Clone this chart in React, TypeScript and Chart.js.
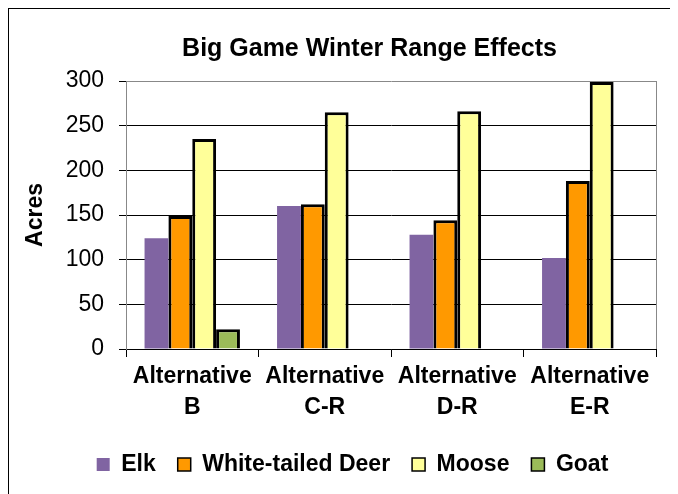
import React, { useEffect, useRef } from "react";
import { Chart, registerables } from "chart.js";

Chart.register(...registerables);

const categories: string[][] = [
  ["Alternative", "B"],
  ["Alternative", "C-R"],
  ["Alternative", "D-R"],
  ["Alternative", "E-R"],
];
const elkValues = [124, 160, 128, 102];
const deerValues = [149, 162, 144, 188];
const mooseValues = [235, 265, 266, 299];
const goatValues: (number | null)[] = [22, null, null, null];
const yMin = 0;
const yMax = 300;
const yStep = 50;

const FONT = "'Liberation Sans', Arial, Helvetica, sans-serif";

const frameLines = {
  id: "frameLines",
  afterDatasetsDraw(chart: any) {
    const { ctx, chartArea } = chart;
    ctx.save();
    ctx.strokeStyle = "#888888";
    ctx.lineWidth = 1;
    ctx.beginPath();
    ctx.moveTo(Math.round(chartArea.right) + 0.5, chartArea.top);
    ctx.lineTo(Math.round(chartArea.right) + 0.5, chartArea.bottom);
    ctx.stroke();
    ctx.restore();
  },
};

const shiftBoxes = {
  id: "shiftBoxes",
  afterLayout(chart: any) {
    const t = chart.titleBlock;
    if (t) {
      t.left += 37;
      t.right += 37;
    }
    const l = chart.legend;
    if (l) {
      l.left += 20;
      l.right += 20;
    }
  },
};

export default function App() {
  const canvasRef = useRef<HTMLCanvasElement | null>(null);

  useEffect(() => {
    if (!canvasRef.current) return;
    const chart = new Chart(canvasRef.current, {
      type: "bar",
      data: {
        labels: categories,
        datasets: [
          {
            label: "Elk",
            data: elkValues,
            backgroundColor: "#8064A2",
            borderColor: "#8064A2",
            borderWidth: 0,
          },
          {
            label: "White-tailed Deer",
            data: deerValues,
            backgroundColor: "#FF9900",
            borderColor: "#000000",
            borderWidth: 3,
          },
          {
            label: "Moose",
            data: mooseValues,
            backgroundColor: "#FFFF99",
            borderColor: "#000000",
            borderWidth: 3,
          },
          {
            label: "Goat",
            data: goatValues,
            backgroundColor: "#9BBB59",
            borderColor: "#000000",
            borderWidth: 3,
          },
        ],
      },
      options: {
        responsive: false,
        animation: false,
        devicePixelRatio: 1,
        layout: { padding: { left: 0, right: 15, top: 0, bottom: 9 } },
        datasets: {
          bar: { categoryPercentage: 0.72, barPercentage: 1.0 },
        },
        plugins: {
          title: {
            display: true,
            text: "Big Game Winter Range Effects",
            color: "#000",
            font: { family: FONT, size: 25, weight: "bold" },
            padding: { top: 25, bottom: 17 },
          },
          legend: {
            position: "bottom",
            labels: {
              color: "#000",
              font: { family: FONT, size: 23, weight: "bold" },
              boxWidth: 13,
              boxHeight: 13,
              padding: 22,
              generateLabels: (chart: any) => {
                const items = Chart.defaults.plugins.legend.labels.generateLabels(chart);
                return items.map((it: any) => ({
                  ...it,
                  lineWidth: it.lineWidth > 0 ? 1.5 : 0,
                }));
              },
            },
          },
          tooltip: { enabled: false },
        },
        scales: {
          x: {
            grid: {
              display: true,
              drawOnChartArea: false,
              drawTicks: true,
              tickLength: 8,
              color: "#000",
              offset: true,
            },
            border: { display: true, color: "#000", width: 1 },
            ticks: {
              color: "#000",
              font: { family: FONT, size: 23, weight: "bold", lineHeight: 1.35 },
              padding: 4,
              maxRotation: 0,
              autoSkip: false,
            },
            afterFit: (scale: any) => {
              scale.height = 82;
            },
          },
          y: {
            min: yMin,
            max: yMax,
            ticks: {
              stepSize: yStep,
              color: "#000",
              font: { family: FONT, size: 23 },
              padding: 15,
            },
            grid: {
              color: (ctx: any) => (ctx.tick && ctx.tick.value === yMax ? "#888888" : "#000000"),
              tickColor: "#000000",
              tickLength: 7,
              drawTicks: true,
            },
            border: { display: true, color: "#888888", width: 1 },
            title: {
              display: true,
              text: "Acres",
              color: "#000",
              font: { family: FONT, size: 23, weight: "bold" },
              padding: { top: 13, bottom: 0 },
            },
            afterFit: (scale: any) => {
              scale.width = 117;
            },
          },
        },
      },
      plugins: [frameLines, shiftBoxes],
    });
    return () => chart.destroy();
  }, []);

  return (
    <div
      style={{
        border: "1px solid #000",
        width: 662,
        height: 486,
        boxSizing: "content-box",
        background: "#fff",
      }}
    >
      <canvas ref={canvasRef} width={662} height={486} style={{ display: "block" }} />
    </div>
  );
}
